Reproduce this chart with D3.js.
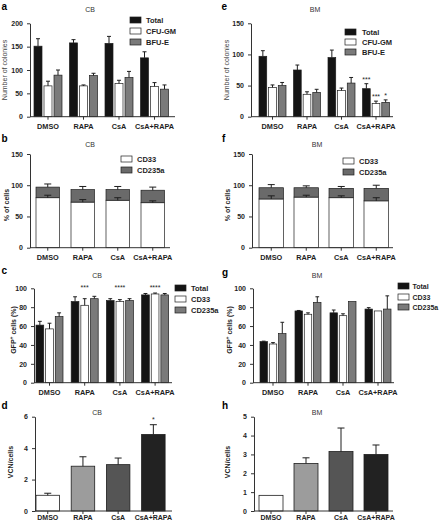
<!DOCTYPE html>
<html><head><meta charset="utf-8">
<script src="https://cdn.jsdelivr.net/npm/d3@7"></script>
<style>body{margin:0;background:#fff} svg{display:block;font-family:"Liberation Sans",Arial,sans-serif}</style>
</head><body><svg id="c" width="440" height="523"></svg>
<script>
// ---------- DATA ----------
const categories = ["DMSO", "RAPA", "CsA", "CsA+RAPA"];

// a: CB colonies
const colonySeries = ["Total", "CFU-GM", "BFU-E"];
const cbColTotal = [151, 158, 157, 126];
const cbColTotalErr = [16, 7, 15, 13];
const cbColCFU = [66, 66, 71, 65];
const cbColCFUErr = [10, 2, 7, 8];
const cbColBFU = [89, 88, 84, 59];
const cbColBFUErr = [11, 5, 13, 9];
const cbColTicks = [0, 50, 100, 150, 200];

// e: BM colonies
const bmColTotal = [97, 75, 95, 45];
const bmColTotalErr = [9, 8, 12, 8];
const bmColCFU = [47, 36, 42, 21];
const bmColCFUErr = [4, 4, 4, 4];
const bmColBFU = [50, 39, 54, 23];
const bmColBFUErr = [5, 5, 9, 4];
const bmColTotalStars = ["", "", "", "***"];
const bmColCFUStars = ["", "", "", "***"];
const bmColBFUStars = ["", "", "", "*"];
const bmColTicks = [0, 50, 100, 150];

// b / f: % of cells (stacked)
const cellSeries = ["CD33", "CD235a"];
const cbCellCD33 = [80, 73, 76, 72];
const cbCellCD33Err = [4, 4, 4, 3];
const cbCellCD235a = [17, 20, 17, 20];
const cbCellCD235aErr = [5, 5, 5, 5];
const bmCellCD33 = [78, 81, 80, 75];
const bmCellCD33Err = [5, 3, 3, 5];
const bmCellCD235a = [18, 15, 15, 20];
const bmCellCD235aErr = [5, 3, 3, 5];
const cellTicks = [0, 50, 100, 150];

// c / g: GFP+ cells
const gfpSeries = ["Total", "CD33", "CD235a"];
const cbGfpTotal = [61, 86, 87, 93];
const cbGfpTotalErr = [4, 5, 2, 1.5];
const cbGfpCD33 = [57, 82, 86, 94];
const cbGfpCD33Err = [6, 7, 2, 1];
const cbGfpCD235a = [70, 89, 87, 93];
const cbGfpCD235aErr = [4, 2.5, 2, 1.5];
const cbGfpStars = ["", "***", "****", "****"];
const bmGfpTotal = [43.5, 76, 74, 78];
const bmGfpTotalErr = [0.5, 0.5, 3, 1.5];
const bmGfpCD33 = [41, 72.5, 71, 76];
const bmGfpCD33Err = [1.5, 1.5, 2, 0];
const bmGfpCD235a = [52, 85, 86, 78];
const bmGfpCD235aErr = [12, 6, 0, 14];
const gfpTicks = [0, 20, 40, 60, 80, 100];

// d / h: VCN per cell
const cbVcn = [1.0, 2.85, 2.95, 4.87];
const cbVcnErr = [0.13, 0.6, 0.42, 0.62];
const cbVcnStars = ["", "", "", "*"];
const cbVcnTicks = [0, 2, 4, 6];
const bmVcn = [0.83, 2.52, 3.15, 3.0];
const bmVcnErr = [0, 0.3, 1.25, 0.5];
const bmVcnTicks = [0, 1, 2, 3, 4, 5];

// ---------- STYLE ----------
const C = { black: "#141414", white: "#ffffff", grey: "#7a7a7a", dgrey: "#6a6a6a",
  vcn: ["#ffffff", "#9c9c9c", "#555555", "#222222"], stroke: "#1e1e1e", text: "#1e1e1e" };

const svg = d3.select("#c");

function panel(cfg) {
  const g = svg.append("g");
  const pi = 1 - cfg.gw / cfg.step;
  const x = d3.scaleBand().domain(categories)
    .range([cfg.bx, cfg.bx + 3 * cfg.step + cfg.gw]).paddingInner(pi).paddingOuter(0);
  const y = d3.scaleLinear().domain([0, cfg.ymax]).range([cfg.y0, cfg.y1]);

  // letter & title
  g.append("text").attr("x", cfg.letter[1]).attr("y", cfg.letter[2]).text(cfg.letter[0])
    .attr("font-size", 10).attr("font-weight", "bold").attr("fill", "#000");
  g.append("text").attr("x", cfg.title[1]).attr("y", cfg.title[2]).text(cfg.title[0])
    .attr("font-size", 7).attr("text-anchor", "middle").attr("fill", "#333");

  // bars
  const capOf = bw => Math.min(7, bw * 0.5);
  function errBar(cx, v, e, bw) {
    if (!e) return;
    const cw = capOf(bw);
    g.append("line").attr("x1", cx).attr("x2", cx).attr("y1", y(v)).attr("y2", y(v + e))
      .attr("stroke", C.stroke).attr("stroke-width", 1);
    g.append("line").attr("x1", cx - cw / 2).attr("x2", cx + cw / 2).attr("y1", y(v + e)).attr("y2", y(v + e))
      .attr("stroke", C.stroke).attr("stroke-width", 1);
  }
  function star(cx, yy, s) {
    if (!s) return;
    g.append("text").attr("x", cx).attr("y", yy).text(s).attr("text-anchor", "middle")
      .attr("font-size", 7).attr("fill", C.text);
  }

  if (cfg.mode === "grouped") {
    const names = cfg.series.map(s => s.name);
    const xs = d3.scaleBand().domain(names).range([0, x.bandwidth()]).paddingInner(cfg.subPad).paddingOuter(0);
    cfg.series.forEach(s => {
      categories.forEach((cat, i) => {
        const bx = x(cat) + xs(s.name), bw = xs.bandwidth();
        g.append("rect").attr("x", bx).attr("y", y(s.values[i])).attr("width", bw)
          .attr("height", y(0) - y(s.values[i])).attr("fill", s.fill)
          .attr("stroke", C.stroke).attr("stroke-width", 0.7);
        errBar(bx + bw / 2, s.values[i], s.errs[i], bw);
        if (s.stars) star(bx + bw / 2, y(s.values[i] + s.errs[i]) - 2, s.stars[i]);
      });
    });
    if (cfg.groupStars) categories.forEach((cat, i) =>
      star(x(cat) + x.bandwidth() / 2, y(cfg.ymax) + 2, cfg.groupStars[i]));
  } else if (cfg.mode === "stacked") {
    const rows = categories.map((cat, i) => {
      const o = { cat };
      cfg.series.forEach(s => o[s.name] = s.values[i]);
      return o;
    });
    const stacked = d3.stack().keys(cfg.series.map(s => s.name))(rows);
    stacked.forEach((layer, li) => {
      const s = cfg.series[li];
      layer.forEach((d, i) => {
        const bx = x(categories[i]), bw = x.bandwidth();
        g.append("rect").attr("x", bx).attr("y", y(d[1])).attr("width", bw)
          .attr("height", y(d[0]) - y(d[1])).attr("fill", s.fill)
          .attr("stroke", C.stroke).attr("stroke-width", 0.7);
      });
    });
    stacked.forEach((layer, li) => {
      const s = cfg.series[li];
      layer.forEach((d, i) => errBar(x(categories[i]) + x.bandwidth() / 2, d[1], s.errs[i], x.bandwidth()));
    });
  } else {
    categories.forEach((cat, i) => {
      const bx = x(cat), bw = x.bandwidth();
      g.append("rect").attr("x", bx).attr("y", y(cfg.values[i])).attr("width", bw)
        .attr("height", y(0) - y(cfg.values[i])).attr("fill", cfg.fills[i])
        .attr("stroke", C.stroke).attr("stroke-width", 0.8);
      errBar(bx + bw / 2, cfg.values[i], cfg.errs[i], bw);
      if (cfg.stars) star(bx + bw / 2, y(cfg.values[i] + cfg.errs[i]) - 3, cfg.stars[i]);
    });
  }

  // y axis
  const ya = g.append("g").attr("transform", `translate(${cfg.ax},0)`)
    .call(d3.axisLeft(y).tickValues(cfg.ticks).tickSize(3).tickSizeOuter(0).tickPadding(4).tickFormat(d3.format("d")));
  ya.select(".domain").attr("stroke", "#333").attr("stroke-width", 1);
  ya.selectAll(".tick line").attr("stroke", "#333");
  ya.selectAll(".tick text").attr("font-size", 7).attr("font-weight", "bold").attr("fill", C.text)
    .attr("font-family", "Liberation Sans, Arial, sans-serif");

  // x axis
  const xa = g.append("g").attr("transform", `translate(0,${cfg.y0})`)
    .call(d3.axisBottom(x).tickSize(3).tickSizeOuter(0).tickPadding(cfg.xPad != null ? cfg.xPad : 4));
  xa.select(".domain").remove();
  xa.selectAll(".tick line").attr("stroke", "#333");
  xa.selectAll(".tick text").attr("font-size", cfg.xfs || 7.3).attr("font-weight", "bold").attr("fill", C.text)
    .attr("font-family", "Liberation Sans, Arial, sans-serif");
  g.append("line").attr("x1", cfg.ax).attr("x2", cfg.xEnd).attr("y1", cfg.y0).attr("y2", cfg.y0)
    .attr("stroke", "#333").attr("stroke-width", 1);

  // y label
  const yl = g.append("text").attr("transform", `translate(${cfg.ylab[1]},${cfg.ylab[2]}) rotate(-90)`)
    .attr("text-anchor", "middle").attr("font-size", 7).attr("fill", cfg.ylabBold ? C.text : "#444")
    .attr("font-weight", cfg.ylabBold ? "bold" : "normal");
  if (cfg.ylabSup) {
    yl.append("tspan").text(cfg.ylab[0][0]);
    yl.append("tspan").text(cfg.ylab[0][1]).attr("font-size", 5).attr("dy", -3);
    yl.append("tspan").text(cfg.ylab[0][2]).attr("dy", 3);
  } else yl.text(cfg.ylab[0]);

  // legend
  if (cfg.legend) {
    const L = cfg.legend;
    L.items.forEach((it, i) => {
      g.append("rect").attr("x", L.x).attr("y", L.rows[i] - 3).attr("width", 11).attr("height", 6)
        .attr("fill", it.fill).attr("stroke", C.stroke).attr("stroke-width", 0.7);
      g.append("text").attr("x", L.tx).attr("y", L.rows[i] + 2.5).text(it.name)
        .attr("font-size", L.fs || 7.5).attr("font-weight", "bold").attr("fill", C.text);
    });
  }
}

const colFills = [C.black, C.white, C.grey];
const gfpFills = [C.black, C.white, C.grey];

// a
panel({ mode: "grouped", letter: ["a", 1.5, 10], title: ["CB", 90, 12], ax: 30, bx: 34, step: 35.5, gw: 28, subPad: 0.2,
  xEnd: 175, y0: 116.7, y1: 23.3, ymax: 200, ticks: cbColTicks, ylab: ["Number of colonies", 7, 70],
  series: [
    { name: colonySeries[0], values: cbColTotal, errs: cbColTotalErr, fill: colFills[0] },
    { name: colonySeries[1], values: cbColCFU, errs: cbColCFUErr, fill: colFills[1] },
    { name: colonySeries[2], values: cbColBFU, errs: cbColBFUErr, fill: colFills[2] }],
  legend: { x: 130, tx: 146, rows: [20, 31, 42], items: colonySeries.map((n, i) => ({ name: n, fill: colFills[i] })) } });

// e
panel({ mode: "grouped", letter: ["e", 221.5, 10], title: ["BM", 315, 12], ax: 251, bx: 259, step: 34.5, gw: 27, subPad: 0.2,
  xEnd: 393, y0: 116.7, y1: 23.3, ymax: 150, ticks: bmColTicks, ylab: ["Number of colonies", 229, 70],
  series: [
    { name: colonySeries[0], values: bmColTotal, errs: bmColTotalErr, fill: colFills[0], stars: bmColTotalStars },
    { name: colonySeries[1], values: bmColCFU, errs: bmColCFUErr, fill: colFills[1], stars: bmColCFUStars },
    { name: colonySeries[2], values: bmColBFU, errs: bmColBFUErr, fill: colFills[2], stars: bmColBFUStars }],
  legend: { x: 345, tx: 362, rows: [32, 42, 52], items: colonySeries.map((n, i) => ({ name: n, fill: colFills[i] })) } });

// b
panel({ mode: "stacked", letter: ["b", 1.5, 142], title: ["CB", 90, 147], ax: 30, bx: 36, step: 35, gw: 23.5,
  xEnd: 170, y0: 247.7, y1: 154, ymax: 150, ticks: cellTicks, ylab: ["% of cells", 9, 205], ylabBold: true,
  series: [
    { name: cellSeries[0], values: cbCellCD33, errs: cbCellCD33Err, fill: C.white },
    { name: cellSeries[1], values: cbCellCD235a, errs: cbCellCD235aErr, fill: C.dgrey }],
  legend: { x: 121, tx: 137, rows: [159, 170], items: [{ name: cellSeries[0], fill: C.white }, { name: cellSeries[1], fill: C.dgrey }] } });

// f
panel({ mode: "stacked", letter: ["f", 222, 142], title: ["BM", 317, 147], ax: 252, bx: 259, step: 35, gw: 24.5,
  xEnd: 393, y0: 247.7, y1: 154, ymax: 150, ticks: cellTicks, ylab: ["% of cells", 230, 205], ylabBold: true,
  series: [
    { name: cellSeries[0], values: bmCellCD33, errs: bmCellCD33Err, fill: C.white },
    { name: cellSeries[1], values: bmCellCD235a, errs: bmCellCD235aErr, fill: C.dgrey }],
  legend: { x: 343, tx: 359, rows: [161, 172], items: [{ name: cellSeries[0], fill: C.white }, { name: cellSeries[1], fill: C.dgrey }] } });

// c
panel({ mode: "grouped", letter: ["c", 1.5, 274], title: ["CB", 97, 278], ax: 34, bx: 36, step: 35.2, gw: 27, subPad: 0.2,
  xEnd: 172, y0: 382.7, y1: 288.3, ymax: 100, ticks: gfpTicks, ylab: [["GFP", "+", " cells (%)"], 16, 330],
  ylabBold: true, ylabSup: true, groupStars: cbGfpStars,
  series: [
    { name: gfpSeries[0], values: cbGfpTotal, errs: cbGfpTotalErr, fill: gfpFills[0] },
    { name: gfpSeries[1], values: cbGfpCD33, errs: cbGfpCD33Err, fill: gfpFills[1] },
    { name: gfpSeries[2], values: cbGfpCD235a, errs: cbGfpCD235aErr, fill: gfpFills[2] }],
  legend: { x: 175, tx: 191, rows: [288, 299, 310], items: gfpSeries.map((n, i) => ({ name: n, fill: gfpFills[i] })) } });

// g
panel({ mode: "grouped", letter: ["g", 222, 276], title: ["BM", 317, 278], ax: 253, bx: 260, step: 35, gw: 26, subPad: 0.2,
  xEnd: 394, y0: 382.7, y1: 288.3, ymax: 100, ticks: gfpTicks, ylab: [["GFP", "+", " cells (%)"], 232, 330],
  ylabBold: true, ylabSup: true,
  series: [
    { name: gfpSeries[0], values: bmGfpTotal, errs: bmGfpTotalErr, fill: gfpFills[0] },
    { name: gfpSeries[1], values: bmGfpCD33, errs: bmGfpCD33Err, fill: gfpFills[1] },
    { name: gfpSeries[2], values: bmGfpCD235a, errs: bmGfpCD235aErr, fill: gfpFills[2] }],
  legend: { x: 398, tx: 412.5, fs: 7, rows: [286, 297, 307], items: gfpSeries.map((n, i) => ({ name: n, fill: gfpFills[i] })) } });

// d
panel({ mode: "single", letter: ["d", 1.5, 409], title: ["CB", 97, 415], ax: 35, bx: 36, step: 35.2, gw: 23.5,
  xEnd: 172, y0: 511, y1: 416.7, ymax: 6, ticks: cbVcnTicks, ylab: ["VCN/cells", 13, 462], ylabBold: true,
  xPad: 1, xfs: 7, values: cbVcn, errs: cbVcnErr, fills: C.vcn, stars: cbVcnStars });

// h
panel({ mode: "single", letter: ["h", 222, 409], title: ["BM", 317, 415], ax: 254, bx: 259, step: 35, gw: 24,
  xEnd: 393, y0: 511, y1: 416.7, ymax: 5, ticks: bmVcnTicks, ylab: ["VCN/cells", 230, 462], ylabBold: true,
  xPad: 1, xfs: 7, values: bmVcn, errs: bmVcnErr, fills: C.vcn });
</script></body></html>
